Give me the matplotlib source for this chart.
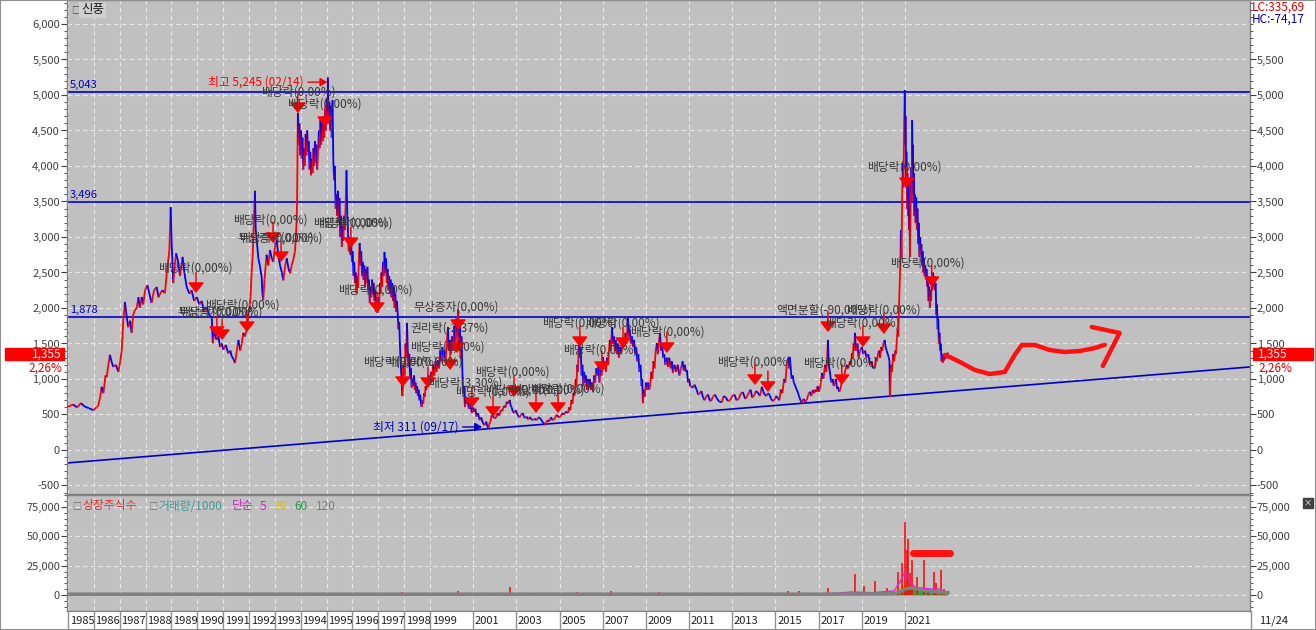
import numpy as np
import matplotlib
matplotlib.use('Agg')
import matplotlib.pyplot as plt
from matplotlib.collections import LineCollection
from matplotlib.patches import Rectangle
import matplotlib.ticker as mticker
import matplotlib.transforms as mtrans

plt.rcParams['font.family'] = ['Noto Sans CJK KR', 'DejaVu Sans']

# ---------------- data: price (year, close) ----------------
price_1985_1993 = [
 (1984.97, 605), (1985.2, 640), (1985.35, 600), (1985.5, 660), (1985.65, 610), (1985.8, 590), (1985.98, 560),
 (1986.10, 600), (1986.17, 620), (1986.25, 760), (1986.30, 890), (1986.37, 800), (1986.45, 1050), (1986.50, 1030),
 (1986.56, 1200), (1986.62, 1340), (1986.68, 1250), (1986.75, 1170), (1986.85, 1200), (1986.95, 1100),
 (1987.02, 1250), (1987.08, 1410), (1987.14, 1830), (1987.20, 2085), (1987.26, 1900), (1987.33, 1730),
 (1987.40, 1820), (1987.46, 1650), (1987.52, 1900), (1987.59, 1970), (1987.66, 2000), (1987.72, 2150),
 (1987.78, 2000), (1987.85, 2155), (1987.91, 2050), (1987.98, 2250), (1988.07, 2320), (1988.15, 2200),
 (1988.23, 2070), (1988.33, 2250), (1988.43, 2295), (1988.50, 2150), (1988.56, 2200), (1988.65, 2250),
 (1988.75, 2210), (1988.82, 2490), (1988.92, 2815), (1988.97, 3420), (1989.01, 2900), (1989.07, 2350),
 (1989.13, 2600), (1989.18, 2770), (1989.26, 2650), (1989.33, 2450), (1989.43, 2720), (1989.50, 2500),
 (1989.59, 2295), (1989.70, 2200), (1989.78, 2250), (1989.88, 2100), (1989.98, 2155), (1990.08, 2050),
 (1990.17, 2100), (1990.26, 1950), (1990.36, 2015), (1990.46, 1900), (1990.56, 1870), (1990.60, 1505),
 (1990.65, 1650), (1990.75, 1550), (1990.82, 1600), (1990.88, 1450), (1990.95, 1500), (1991.01, 1410),
 (1991.10, 1480), (1991.20, 1360), (1991.28, 1400), (1991.33, 1320), (1991.40, 1280), (1991.46, 1225),
 (1991.53, 1400), (1991.59, 1550), (1991.66, 1400), (1991.72, 1500), (1991.78, 1650), (1991.84, 1600),
 (1991.92, 1700), (1991.97, 1870), (1992.03, 2050), (1992.06, 2155), (1992.10, 2500), (1992.14, 2720),
 (1992.19, 3200), (1992.23, 3650), (1992.26, 3100), (1992.29, 3000), (1992.36, 2700), (1992.42, 2600),
 (1992.49, 2435), (1992.52, 2200), (1992.55, 2110), (1992.60, 2400), (1992.68, 2750), (1992.75, 2600),
 (1992.81, 2815), (1992.88, 2700), (1992.94, 2650), (1993.00, 2850), (1993.07, 2955), (1993.13, 2750),
 (1993.20, 2600), (1993.27, 2500), (1993.33, 2390), (1993.40, 2600), (1993.46, 2700), (1993.53, 2550),
 (1993.59, 2490), (1993.65, 2600), (1993.71, 2675), (1993.78, 2800), (1993.84, 3200), (1993.86, 3520)]

price_1994_1998 = [
 (1993.89, 4745), (1993.92, 4300), (1993.95, 4600), (1993.98, 4150), (1994.01, 4500), (1994.04, 4100),
 (1994.07, 4400), (1994.10, 3950), (1994.13, 4250), (1994.16, 4000), (1994.19, 4450), (1994.22, 4150),
 (1994.25, 4500), (1994.28, 4200), (1994.31, 4350), (1994.34, 3950), (1994.37, 4200), (1994.40, 3870),
 (1994.43, 4100), (1994.46, 3900), (1994.49, 4250), (1994.52, 4000), (1994.55, 4350), (1994.58, 4050),
 (1994.61, 4300), (1994.64, 3950), (1994.67, 4200), (1994.70, 4500), (1994.73, 4250), (1994.76, 4650),
 (1994.79, 4300), (1994.82, 4600), (1994.85, 4350), (1994.88, 4700), (1994.91, 4400), (1994.94, 4800),
 (1994.97, 4500), (1995.00, 4950), (1995.03, 4700), (1995.05, 5245), (1995.08, 4600), (1995.11, 4900),
 (1995.14, 4500), (1995.17, 4850), (1995.20, 4400), (1995.23, 4930), (1995.26, 4100), (1995.29, 3800),
 (1995.32, 4000), (1995.35, 3400), (1995.38, 3600), (1995.41, 3300), (1995.44, 3650), (1995.47, 3200),
 (1995.50, 3550), (1995.53, 3000), (1995.56, 3300), (1995.59, 2860), (1995.62, 3150), (1995.65, 2950),
 (1995.68, 3300), (1995.71, 3100), (1995.74, 3500), (1995.77, 3940), (1995.80, 3300), (1995.83, 3050),
 (1995.86, 2800), (1995.89, 3000), (1995.92, 2750), (1995.95, 2950), (1995.98, 2650), (1996.01, 2800),
 (1996.04, 2450), (1996.07, 2650), (1996.10, 2350), (1996.13, 2500), (1996.16, 2210), (1996.19, 2450),
 (1996.22, 2300), (1996.25, 2700), (1996.28, 2915), (1996.31, 2600), (1996.34, 2800), (1996.37, 2450),
 (1996.40, 2650), (1996.43, 2400), (1996.46, 2600), (1996.49, 2300), (1996.52, 2550), (1996.55, 2350),
 (1996.58, 2580), (1996.61, 2250), (1996.64, 2400), (1996.67, 2070), (1996.70, 2300), (1996.73, 2150),
 (1996.76, 2400), (1996.79, 2200), (1996.82, 2350), (1996.85, 2100), (1996.88, 2250), (1996.91, 1950),
 (1996.94, 2150), (1996.97, 1930), (1997.00, 2150), (1997.03, 2000), (1997.06, 2350), (1997.09, 2200),
 (1997.12, 2500), (1997.15, 2300), (1997.18, 2650), (1997.21, 2450), (1997.24, 2790), (1997.27, 2500),
 (1997.30, 2700), (1997.33, 2350), (1997.36, 2550), (1997.39, 2250), (1997.42, 2450), (1997.45, 2200),
 (1997.48, 2400), (1997.51, 2150), (1997.54, 2350), (1997.57, 2100), (1997.60, 2300), (1997.63, 2000),
 (1997.66, 2200), (1997.69, 1950), (1997.72, 2100), (1997.75, 1930), (1997.78, 1700), (1997.81, 1800),
 (1997.84, 1450), (1997.87, 1200), (1997.90, 1000), (1997.93, 760), (1997.96, 900), (1997.99, 1200),
 (1998.02, 1050), (1998.05, 1500), (1998.08, 1300), (1998.11, 1790), (1998.14, 1400), (1998.17, 1200),
 (1998.20, 1350), (1998.23, 1000), (1998.26, 1150), (1998.29, 880), (1998.32, 1000), (1998.35, 900),
 (1998.38, 1050), (1998.41, 850), (1998.44, 950), (1998.47, 800), (1998.50, 900), (1998.53, 760),
 (1998.56, 850), (1998.59, 700), (1998.62, 780), (1998.65, 650), (1998.68, 605), (1998.71, 700),
 (1998.74, 650), (1998.77, 800), (1998.80, 750), (1998.83, 900), (1998.86, 850), (1998.89, 950),
 (1998.92, 900), (1998.95, 1050)]

price_1999_2004 = [
 (1999.00, 950), (1999.05, 1100), (1999.10, 1000), (1999.15, 1200), (1999.20, 1050), (1999.25, 1250),
 (1999.30, 1100), (1999.37, 1265), (1999.42, 1150), (1999.47, 1400), (1999.52, 1250), (1999.57, 1450),
 (1999.62, 1300), (1999.67, 1400), (1999.72, 1250), (1999.77, 1500), (1999.83, 1730), (1999.87, 1400),
 (1999.92, 1550), (1999.97, 1350), (2000.02, 1600), (2000.07, 1400), (2000.12, 1750), (2000.17, 1500),
 (2000.22, 1850), (2000.26, 1600), (2000.30, 1970), (2000.34, 1500), (2000.38, 1800), (2000.42, 1300),
 (2000.46, 1600), (2000.50, 1100), (2000.53, 800), (2000.57, 900), (2000.62, 605), (2000.66, 750),
 (2000.70, 650), (2000.75, 700), (2000.80, 580), (2000.86, 650), (2000.94, 520), (2001.00, 600),
 (2001.05, 540), (2001.10, 580), (2001.15, 470), (2001.22, 520), (2001.30, 420), (2001.37, 460),
 (2001.45, 380), (2001.53, 350), (2001.60, 400), (2001.65, 340), (2001.71, 311), (2001.76, 380),
 (2001.80, 400), (2001.85, 480), (2001.90, 520), (2001.95, 450), (2002.05, 450), (2002.12, 520),
 (2002.20, 480), (2002.28, 560), (2002.35, 550), (2002.42, 620), (2002.50, 600), (2002.55, 680),
 (2002.60, 650), (2002.69, 705), (2002.74, 620), (2002.78, 600), (2002.84, 540), (2002.90, 520),
 (2002.97, 560), (2003.05, 500), (2003.10, 470), (2003.15, 460), (2003.22, 500), (2003.29, 520),
 (2003.35, 470), (2003.40, 450), (2003.48, 470), (2003.55, 430), (2003.63, 465), (2003.70, 430),
 (2003.75, 420), (2003.85, 440), (2003.94, 420), (2004.02, 460), (2004.10, 450), (2004.20, 400),
 (2004.26, 380), (2004.32, 350), (2004.38, 390), (2004.45, 420), (2004.52, 400), (2004.60, 460),
 (2004.68, 420), (2004.75, 430), (2004.82, 470), (2004.88, 495), (2004.95, 460)]

price_2005_2010 = [
 (2005.05, 470), (2005.12, 520), (2005.20, 500), (2005.30, 540), (2005.39, 520), (2005.45, 600),
 (2005.50, 560), (2005.55, 705), (2005.60, 650), (2005.64, 800), (2005.68, 760), (2005.71, 845),
 (2005.75, 1000), (2005.78, 900), (2005.82, 1200), (2005.85, 1100), (2005.90, 1550), (2005.94, 1300),
 (2005.98, 1450), (2006.02, 1050), (2006.06, 1200), (2006.10, 900), (2006.14, 1100), (2006.18, 950),
 (2006.22, 1050), (2006.27, 845), (2006.32, 1000), (2006.36, 880), (2006.40, 1000), (2006.45, 850),
 (2006.50, 950), (2006.55, 820), (2006.60, 1050), (2006.65, 950), (2006.70, 1150), (2006.75, 1050),
 (2006.80, 1200), (2006.85, 950), (2006.90, 1150), (2006.95, 1050), (2007.01, 1310), (2007.05, 1150),
 (2007.10, 1250), (2007.15, 1100), (2007.20, 1300), (2007.25, 1200), (2007.30, 1450), (2007.33, 1550),
 (2007.37, 1400), (2007.43, 1730), (2007.47, 1500), (2007.52, 1600), (2007.56, 1400), (2007.60, 1550),
 (2007.65, 1350), (2007.70, 1500), (2007.75, 1300), (2007.80, 1450), (2007.85, 1350), (2007.89, 1410),
 (2007.95, 1550), (2008.00, 1450), (2008.05, 1650), (2008.10, 1500), (2008.17, 1860), (2008.21, 1600),
 (2008.25, 1700), (2008.30, 1500), (2008.35, 1600), (2008.40, 1450), (2008.45, 1550), (2008.50, 1350),
 (2008.55, 1450), (2008.60, 1250), (2008.65, 1350), (2008.70, 1100), (2008.75, 1200), (2008.80, 900),
 (2008.83, 1000), (2008.86, 660), (2008.90, 850), (2008.95, 750), (2009.00, 950), (2009.05, 850),
 (2009.10, 950), (2009.15, 850), (2009.19, 890), (2009.25, 1100), (2009.30, 1000), (2009.35, 1250),
 (2009.40, 1150), (2009.45, 1400), (2009.51, 1505), (2009.55, 1350), (2009.60, 1500), (2009.65, 1650),
 (2009.70, 1400), (2009.75, 1500), (2009.80, 1300), (2009.85, 1350), (2009.90, 1200), (2009.97, 1300),
 (2010.02, 1170), (2010.08, 1300), (2010.15, 1150), (2010.20, 1250), (2010.25, 1085), (2010.32, 1200),
 (2010.40, 1100), (2010.47, 1200), (2010.55, 1050), (2010.62, 1150), (2010.70, 1250), (2010.75, 1120),
 (2010.80, 1200), (2010.85, 1100), (2010.90, 1125), (2010.95, 950)]

price_2011_2020 = [
 (2011.00, 1000), (2011.05, 900), (2011.10, 900), (2011.18, 875), (2011.25, 920), (2011.35, 850),
 (2011.42, 780), (2011.50, 800), (2011.57, 830), (2011.64, 745), (2011.72, 700), (2011.80, 760),
 (2011.88, 780), (2011.95, 700), (2012.02, 690), (2012.10, 750), (2012.20, 780), (2012.30, 720),
 (2012.40, 680), (2012.52, 675), (2012.60, 760), (2012.70, 740), (2012.80, 690), (2012.90, 700),
 (2013.00, 760), (2013.10, 780), (2013.20, 700), (2013.30, 720), (2013.40, 800), (2013.49, 815),
 (2013.60, 720), (2013.70, 760), (2013.78, 820), (2013.85, 850), (2013.92, 740), (2014.00, 760),
 (2014.10, 830), (2014.20, 800), (2014.28, 760), (2014.37, 890), (2014.44, 820), (2014.50, 780),
 (2014.58, 760), (2014.65, 800), (2014.72, 780), (2014.80, 720), (2014.88, 690), (2014.95, 700),
 (2015.03, 760), (2015.11, 730), (2015.18, 700), (2015.25, 850), (2015.32, 800), (2015.40, 1000),
 (2015.46, 950), (2015.53, 1225), (2015.60, 1300), (2015.64, 1150), (2015.67, 1310), (2015.72, 1100),
 (2015.75, 1000), (2015.80, 1050), (2015.85, 950), (2015.92, 900), (2015.99, 845), (2016.05, 800),
 (2016.10, 750), (2016.16, 700), (2016.22, 660), (2016.30, 720), (2016.38, 680), (2016.45, 700),
 (2016.52, 780), (2016.60, 820), (2016.66, 760), (2016.73, 845), (2016.80, 800), (2016.85, 850),
 (2016.90, 820), (2016.95, 900), (2017.00, 820), (2017.05, 850), (2017.10, 950), (2017.15, 1085),
 (2017.22, 1000), (2017.30, 1200), (2017.36, 1100), (2017.43, 1550), (2017.47, 1200), (2017.52, 1100),
 (2017.56, 1000), (2017.60, 950), (2017.65, 1000), (2017.70, 900), (2017.75, 950), (2017.80, 1000),
 (2017.85, 860), (2017.89, 890), (2017.95, 820), (2018.00, 850), (2018.07, 950), (2018.15, 1000),
 (2018.22, 1100), (2018.30, 1200), (2018.37, 1150), (2018.45, 1250), (2018.50, 1200), (2018.54, 1365),
 (2018.58, 1300), (2018.62, 1500), (2018.65, 1400), (2018.68, 1650), (2018.72, 1450), (2018.75, 1400),
 (2018.80, 1500), (2018.85, 1300), (2018.92, 1400), (2019.00, 1450), (2019.07, 1350), (2019.15, 1400),
 (2019.22, 1300), (2019.30, 1350), (2019.38, 1200), (2019.45, 1250), (2019.52, 1150), (2019.60, 1170),
 (2019.65, 1300), (2019.70, 1250), (2019.75, 1350), (2019.80, 1400), (2019.85, 1300), (2019.90, 1450),
 (2019.95, 1400), (2020.00, 1500), (2020.06, 1550), (2020.10, 1450), (2020.15, 1400), (2020.20, 1350),
 (2020.25, 1300), (2020.28, 1250), (2020.30, 745), (2020.33, 1000), (2020.36, 1200), (2020.40, 1100),
 (2020.45, 1350), (2020.50, 1250), (2020.55, 1400), (2020.58, 1350)]

price_2020_2022 = [
 (2020.62, 1550), (2020.66, 1700), (2020.69, 1600), (2020.72, 2000), (2020.75, 2295), (2020.78, 2600),
 (2020.81, 3100), (2020.84, 2700), (2020.87, 3600), (2020.90, 4040), (2020.93, 3700), (2020.96, 4600),
 (2020.99, 5070), (2021.01, 4300), (2021.03, 4700), (2021.05, 3700), (2021.07, 4200), (2021.09, 3400),
 (2021.11, 3900), (2021.13, 3660), (2021.15, 3300), (2021.17, 3800), (2021.19, 3100), (2021.21, 3400),
 (2021.23, 2720), (2021.25, 3200), (2021.27, 3600), (2021.29, 3985), (2021.31, 3500), (2021.33, 4645),
 (2021.35, 4000), (2021.37, 4300), (2021.39, 3600), (2021.41, 3900), (2021.43, 3300), (2021.46, 3600),
 (2021.49, 3200), (2021.52, 3560), (2021.55, 3100), (2021.58, 3400), (2021.61, 2900), (2021.64, 3200),
 (2021.67, 2720), (2021.70, 3000), (2021.73, 2750), (2021.76, 2900), (2021.79, 2600), (2021.82, 2800),
 (2021.85, 2500), (2021.88, 2700), (2021.91, 2450), (2021.94, 2600), (2021.97, 2400), (2022.00, 2550),
 (2022.03, 2300), (2022.06, 2450), (2022.09, 2100), (2022.12, 2300), (2022.15, 2000), (2022.18, 2250),
 (2022.21, 2100), (2022.24, 2400), (2022.27, 2250), (2022.30, 2500), (2022.33, 2300), (2022.36, 2450),
 (2022.39, 2250), (2022.42, 2350), (2022.45, 1900), (2022.48, 2050), (2022.51, 1700), (2022.54, 1850),
 (2022.57, 1500), (2022.60, 1650), (2022.63, 1400), (2022.66, 1500), (2022.69, 1250), (2022.72, 1350),
 (2022.75, 1230), (2022.78, 1320), (2022.81, 1260), (2022.84, 1340), (2022.87, 1280), (2022.90, 1350),
 (2022.93, 1300), (2022.96, 1370), (2022.99, 1355)]

levels = [5043, 3496, 1878]
level_labels = ['5,043', '3,496', '1,878']

trend_years = [1984.96, 2036.96]
trend_values = [-183, 1169]

div_years = [1989.95, 1990.76, 1990.96, 1991.92, 1992.93, 1993.24, 1993.89, 1994.94, 1995.94, 1996.95,
             1997.95, 1998.92, 1999.93, 2000.25, 2000.30, 2000.94, 2001.92, 2002.89, 2003.91, 2004.93,
             2005.94, 2006.96, 2007.94, 2009.97, 2014.05, 2014.65, 2017.43, 2018.07, 2019.05, 2020.02,
             2021.08, 2022.24]
div_values = [2211, 1591, 1549, 1661, 2915, 2647, 4745, 4548, 2844, 1929,
              887, 873, 1126, 1366, 1690, 591, 465, 746, 521, 521,
              1450, 1098, 1436, 1366, 915, 817, 1661, 915, 1450, 1633,
              3689, 2295]

note_texts = ['배당락(0,00%)', '배당락(0,00%)', '배당락(0,00%)', '배당락(0,00%)', '무상증자(0,00%)', '배당락(0,00%)',
              '배당락(0,00%)', '배당락(0,00%)', '배당락(0,00%)', '무상증자(0,00%)', '배당락(0,00%)', '배당락(0,00%)',
              '무상증자(0,00%)', '권리락(-2,37%)', '배당락(0,00%)', '배당락(0,00%)', '배당락(0,00%)', '배당락(3,30%)',
              '배당락(0,00%)', '배당락(0,00%)', '배당락(0,00%)', '배당락(0,00%)', '배당락(0,00%)', '배당락(0,00%)',
              '배당락(0,00%)', '배당락(0,00%)', '배당락(0,00%)', '배당락(0,00%)', '배당락(0,00%)', '배당락(0,00%)',
              '액면분할(-90,00%)', '배당락(0,00%)', '배당락(0,00%)', '배당락(0,00%)']
note_years = [1992.46, 1993.47, 1988.48, 1991.38, 1991.54, 1991.60, 1994.47, 1994.66, 1990.30, 1989.22, 1989.30, 1995.44,
              1998.34, 1998.23, 1998.23, 1996.41, 1997.37, 1998.92, 2001.08, 2000.16, 2001.55, 2002.70, 2003.63, 2004.19,
              2006.18, 2008.26, 2005.16, 2012.29, 2019.23, 2020.30, 2015.06, 2018.26, 2017.29, 2016.27]
note_values = [5042, 4872, 2563, 3239, 2985, 2985, 3196, 3196, 2042, 1943, 1943, 2253,
               2013, 1718, 1450, 1239, 1239, 943, 1098, 817, 845, 845, 859, 1788,
               1788, 1661, 1408, 1239, 3985, 2633, 1971, 1971, 1788, 1225]

high_year, high_value, high_label = 1995.03, 5181, '최고 5,245 (02/14)'
low_year, low_value, low_label = 2001.41, 324, '최저 311 (09/17)'

last_price_label, last_change_label = '1,355', '2,26%'
lc_label, hc_label = 'LC:335,69', 'HC:-74,17'

sketch_years = [2022.84, 2023.07, 2023.54, 2024.23, 2024.93, 2025.62, 2026.08, 2026.41, 2027.01,
                2027.70, 2028.40, 2029.09, 2029.79, 2030.25]
sketch_values = [1338, 1310, 1240, 1127, 1070, 1099, 1338, 1479, 1479, 1408, 1380, 1394, 1436, 1480]
sketch_head_years = [2029.65, 2030.94, 2030.16]
sketch_head_values = [1732, 1648, 1183]

vol_years = [1987.5, 1989.0, 1990.5, 1992.2, 1993.5, 1994.3, 1995.1, 1996.5, 1997.9, 1999.5, 2000.3, 2001.0,
             2002.7, 2005.8, 2007.4, 2008.2, 2009.6, 2013.5, 2015.6, 2016.1, 2017.45, 2018.68, 2019.1,
             2019.6, 2020.16, 2020.67, 2020.85, 2020.99, 2021.08, 2021.13, 2021.22, 2021.31, 2021.55,
             2021.87, 2022.06, 2022.33, 2022.45, 2022.66, 2022.80]
vol_values = [600, 800, 900, 1500, 1200, 1300, 1400, 1000, 2500, 1500, 3000, 2000,
              7000, 2500, 3000, 2000, 2500, 1500, 3500, 3000, 6000, 17500, 8000,
              12000, 6000, 20000, 27000, 62000, 38000, 48000, 19000, 30000, 15000,
              30000, 6000, 20000, 10000, 21000, 5000]

ma_years = [1985.0, 2017.0, 2018.5, 2019.5, 2020.5, 2020.8, 2021.0, 2021.2, 2021.5, 2021.8, 2022.2, 2022.6, 2022.99]
ma5 = [300, 500, 2500, 2000, 3500, 12000, 20000, 12000, 6000, 6000, 5000, 5000, 1500]
ma20 = [300, 400, 1800, 1500, 2500, 8000, 13000, 10000, 6000, 4000, 3500, 3000, 1800]
ma60 = [250, 350, 1200, 1200, 1800, 5000, 8500, 8000, 6000, 3500, 2500, 2300, 1800]
ma120 = [700, 700, 900, 1000, 1300, 3000, 5000, 6000, 5500, 4000, 3000, 2500, 2000]
vol_marker_years = [2021.36, 2023.07]
vol_marker_values = [35800, 35800]

grid_years = list(range(1985, 2000)) + list(range(2001, 2022, 2))
year_labels = [str(y) for y in grid_years]
end_date_label = '11/24'

# ---------------- figure ----------------
W, H = 1316, 630
fig = plt.figure(figsize=(W / 100, H / 100), dpi=100)
fig.patch.set_facecolor('white')

def fx(px):
    return px / W

def fy(py):
    return 1 - py / H

pre = (430 - 68) / 14.0
post = (905 - 430) / 22.0
KNOT_Y = [1900.0, 1985.0, 1999.0, 2100.0]
KNOT_P = [68 - 85 * pre, 68.0, 430.0, 430 + 101 * post]

def fwd(x):
    return np.interp(x, KNOT_Y, KNOT_P)

def inv(p):
    return np.interp(p, KNOT_P, KNOT_Y)

XL = (float(inv(67)), float(inv(1250)))
BG = '#c0c0c0'
BLUE = '#0000c8'
RED = '#ff0000'
GRIDC = '#e8e8e8'
TICKC = '#404040'
fmt = mticker.FuncFormatter(lambda v, p: f"{int(round(v)):,}")

ax = fig.add_axes([fx(67), fy(494), (1250 - 67) / W, 494 / H])
axv = fig.add_axes([fx(67), fy(611), (1250 - 67) / W, (611 - 495) / H])
axs = fig.add_axes([fx(67), 0, (1250 - 67) / W, 19 / H])

for a in (ax, axv, axs):
    a.set_xscale('function', functions=(fwd, inv))
    a.set_xlim(*XL)

for a in (ax, axv):
    a.set_facecolor(BG)
    a.set_axisbelow(True)
    for s in a.spines.values():
        s.set_color('#808080')
        s.set_linewidth(1)
    a.set_xticks(grid_years)
    a.tick_params(axis='x', length=0, labelbottom=False)
    a.grid(True, axis='both', color=GRIDC, ls=(0, (4, 3)), lw=0.8)

# main price axes
ax.set_ylim(-620, 6338)
ax.set_yticks(np.arange(-500, 6001, 500))
ax.yaxis.set_minor_locator(mticker.MultipleLocator(100))
ax.yaxis.set_major_formatter(fmt)
ax.tick_params(axis='y', which='major', length=4, labelsize=8, colors=TICKC, pad=1, right=True)
ax.tick_params(axis='y', which='minor', length=2, colors=TICKC, right=True)

axR = ax.twinx()
axR.set_ylim(ax.get_ylim())
axR.set_yticks(np.arange(-500, 5501, 500))
axR.yaxis.set_minor_locator(mticker.MultipleLocator(100))
axR.yaxis.set_major_formatter(fmt)
axR.tick_params(axis='y', which='major', length=4, labelsize=8, colors=TICKC, pad=1)
axR.tick_params(axis='y', which='minor', length=2, colors=TICKC)
for s in axR.spines.values():
    s.set_visible(False)

# price line, red up / blue down
price_points = (price_1985_1993 + price_1994_1998 + price_1999_2004 +
                price_2005_2010 + price_2011_2020 + price_2020_2022)
py = np.array([p[0] for p in price_points], float)
pv = np.array([p[1] for p in price_points], float)
pts = np.column_stack([py, pv]).reshape(-1, 1, 2)
segs = np.concatenate([pts[:-1], pts[1:]], axis=1)
cols = [RED if d >= 0 else '#0000ff' for d in np.diff(pv)]
lc = LineCollection(segs, colors=cols, linewidths=1.3, zorder=3)
ax.add_collection(lc)

# horizontal levels
for lv, lab in zip(levels, level_labels):
    ax.axhline(lv, color=BLUE, lw=1.2, zorder=2)
    ax.annotate(lab, xy=(XL[0], lv), xytext=(2, 1.5), textcoords='offset points',
                ha='left', va='bottom', color=BLUE, fontsize=8)

# trend line
ax.plot(trend_years, trend_values, color=BLUE, lw=1.2, zorder=2)

# dividend markers
for yv, pvv in zip(div_years, div_values):
    ax.annotate('', xy=(yv, pvv), xytext=(0, 15), textcoords='offset points',
                arrowprops=dict(arrowstyle='-|>,head_width=0.35,head_length=0.45', color=RED,
                                lw=1.1, shrinkA=0, shrinkB=0, mutation_scale=14), zorder=5)

# notes
for t, yv, pvv in zip(note_texts, note_years, note_values):
    ax.text(yv, pvv, t, fontsize=8.5, color='#383838', ha='left', va='center', zorder=6)

# high / low annotations
ax.annotate(high_label, xy=(high_year, high_value), xytext=(-17, 0), textcoords='offset points',
            ha='right', va='center', color=RED, fontsize=8.5,
            arrowprops=dict(arrowstyle='-|>,head_width=0.3,head_length=0.5', color=RED, lw=1,
                            shrinkA=1, shrinkB=0), zorder=6)
ax.annotate(low_label, xy=(low_year, low_value), xytext=(-17, 0), textcoords='offset points',
            ha='right', va='center', color=BLUE, fontsize=8.5,
            arrowprops=dict(arrowstyle='-|>,head_width=0.3,head_length=0.5', color=BLUE, lw=1,
                            shrinkA=1, shrinkB=0), zorder=6)

# hand-drawn sketch
ax.plot(sketch_years, sketch_values, color='#ff1010', lw=3.2, solid_capstyle='round',
        solid_joinstyle='round', zorder=7)
ax.plot(sketch_head_years, sketch_head_values, color='#ff1010', lw=3.2, solid_capstyle='round',
        solid_joinstyle='round', zorder=7)

# volume axes
axv.set_ylim(-13640, 85230)
axv.set_yticks([0, 25000, 50000, 75000])
axv.yaxis.set_minor_locator(mticker.MultipleLocator(5000))
axv.yaxis.set_major_formatter(fmt)
axv.tick_params(axis='y', which='major', length=4, labelsize=8, colors=TICKC, pad=1,
                right=True, labelright=True)
axv.tick_params(axis='y', which='minor', length=2, colors=TICKC, right=True)
axv.fill_between(ma_years, 0, ma20, color='#e8c000', alpha=0.9, lw=0, zorder=2)
axv.fill_between(ma_years, 0, ma60, color='#20a040', alpha=0.9, lw=0, zorder=2)
axv.vlines(vol_years, 0, vol_values, color='#ff0000', lw=1.1, zorder=3)
axv.plot(ma_years, ma5, color='#e020e0', lw=1, zorder=4)
axv.plot(ma_years, ma120, color='#808080', lw=2.5, zorder=4)
axv.plot(vol_marker_years, vol_marker_values, color='#ff1010', lw=5, solid_capstyle='round', zorder=6)

# date strip
axs.set_ylim(0, 1)
axs.set_facecolor('white')
for k, s in axs.spines.items():
    s.set_visible(k == 'top')
    s.set_color('#808080')
axs.set_xticks([])
axs.set_yticks([])
axs.vlines(grid_years, 0, 1, color='#909090', lw=1)
for yv, lab in zip(grid_years, year_labels):
    axs.annotate(lab, xy=(yv, 0.45), xytext=(1.2, 0), textcoords='offset points',
                 ha='left', va='center', fontsize=8, color='#202020')
fig.add_artist(plt.Line2D([fx(1251), fx(1251)], [0, fy(611)], color='#909090', lw=1))
fig.text(fx(1259), fy(621), end_date_label, fontsize=8, color='#202020', va='center', ha='left')

# top-left title
fig.text(fx(71), fy(10), '□', fontsize=6.5, color='#505050', va='center', ha='left')
fig.text(fx(81), fy(10), '신풍', fontsize=9, color='#202020', va='center', ha='left',
         bbox=dict(boxstyle='square,pad=0.15', fc='#d0d0d0', ec='none'))

# LC / HC
fig.text(fx(1252), fy(7), lc_label, fontsize=8.5, color='#e00000', va='center', ha='left')
fig.text(fx(1252), fy(19), hc_label, fontsize=8.5, color='#0000a0', va='center', ha='left')

# last price boxes (tied to the last price value)
blend = mtrans.blended_transform_factory(fig.transFigure, ax.transData)
lastp = float(pv[-1])
box_h = 12 * (ax.get_ylim()[1] - ax.get_ylim()[0]) / 494
for x0, x1 in ((5, 64), (1253, 1313)):
    fig.add_artist(Rectangle((fx(x0), lastp - box_h / 2), (x1 - x0) / W, box_h,
                             transform=blend, color='#ff0000', zorder=10, clip_on=False))
fig.text(fx(62), lastp, last_price_label, transform=blend, color='white', fontsize=8.5,
         ha='right', va='center', zorder=11)
fig.text(fx(1258), lastp, last_price_label, transform=blend, color='white', fontsize=8.5,
         ha='left', va='center', zorder=11)
fig.text(fx(62), lastp - 14 * box_h / 12, last_change_label, transform=blend, color='#e00000',
         fontsize=8.5, ha='right', va='center')
fig.text(fx(1258), lastp - 14 * box_h / 12, last_change_label, transform=blend, color='#e00000',
         fontsize=8.5, ha='left', va='center')

# volume legend
leg = [('□', '#707070', 72), ('상장주식수', '#e03030', 82), ('□', '#707070', 148),
       ('거래량/1000', '#3a9a9a', 158), ('단순', '#d020d0', 232), ('5', '#d020d0', 260),
       ('20', '#e0c000', 273), ('60', '#20a040', 294), ('120', '#808080', 316)]
for s, c, xp in leg:
    fig.text(fx(xp), fy(506), s, color=c, fontsize=8.5 if s != '□' else 6.5, va='center', ha='left')

# small close icon
fig.add_artist(Rectangle((fx(1303), fy(508)), 10 / W, 10 / H, transform=fig.transFigure,
                         color='#404040'))
fig.text(fx(1308), fy(503), '×', color='white', fontsize=6, ha='center', va='center')

# outer border
fig.add_artist(Rectangle((0, 0), 1, 1, transform=fig.transFigure, fill=False, ec='#909090', lw=1.5))

fig.savefig('out.png', dpi=100, facecolor='white')
